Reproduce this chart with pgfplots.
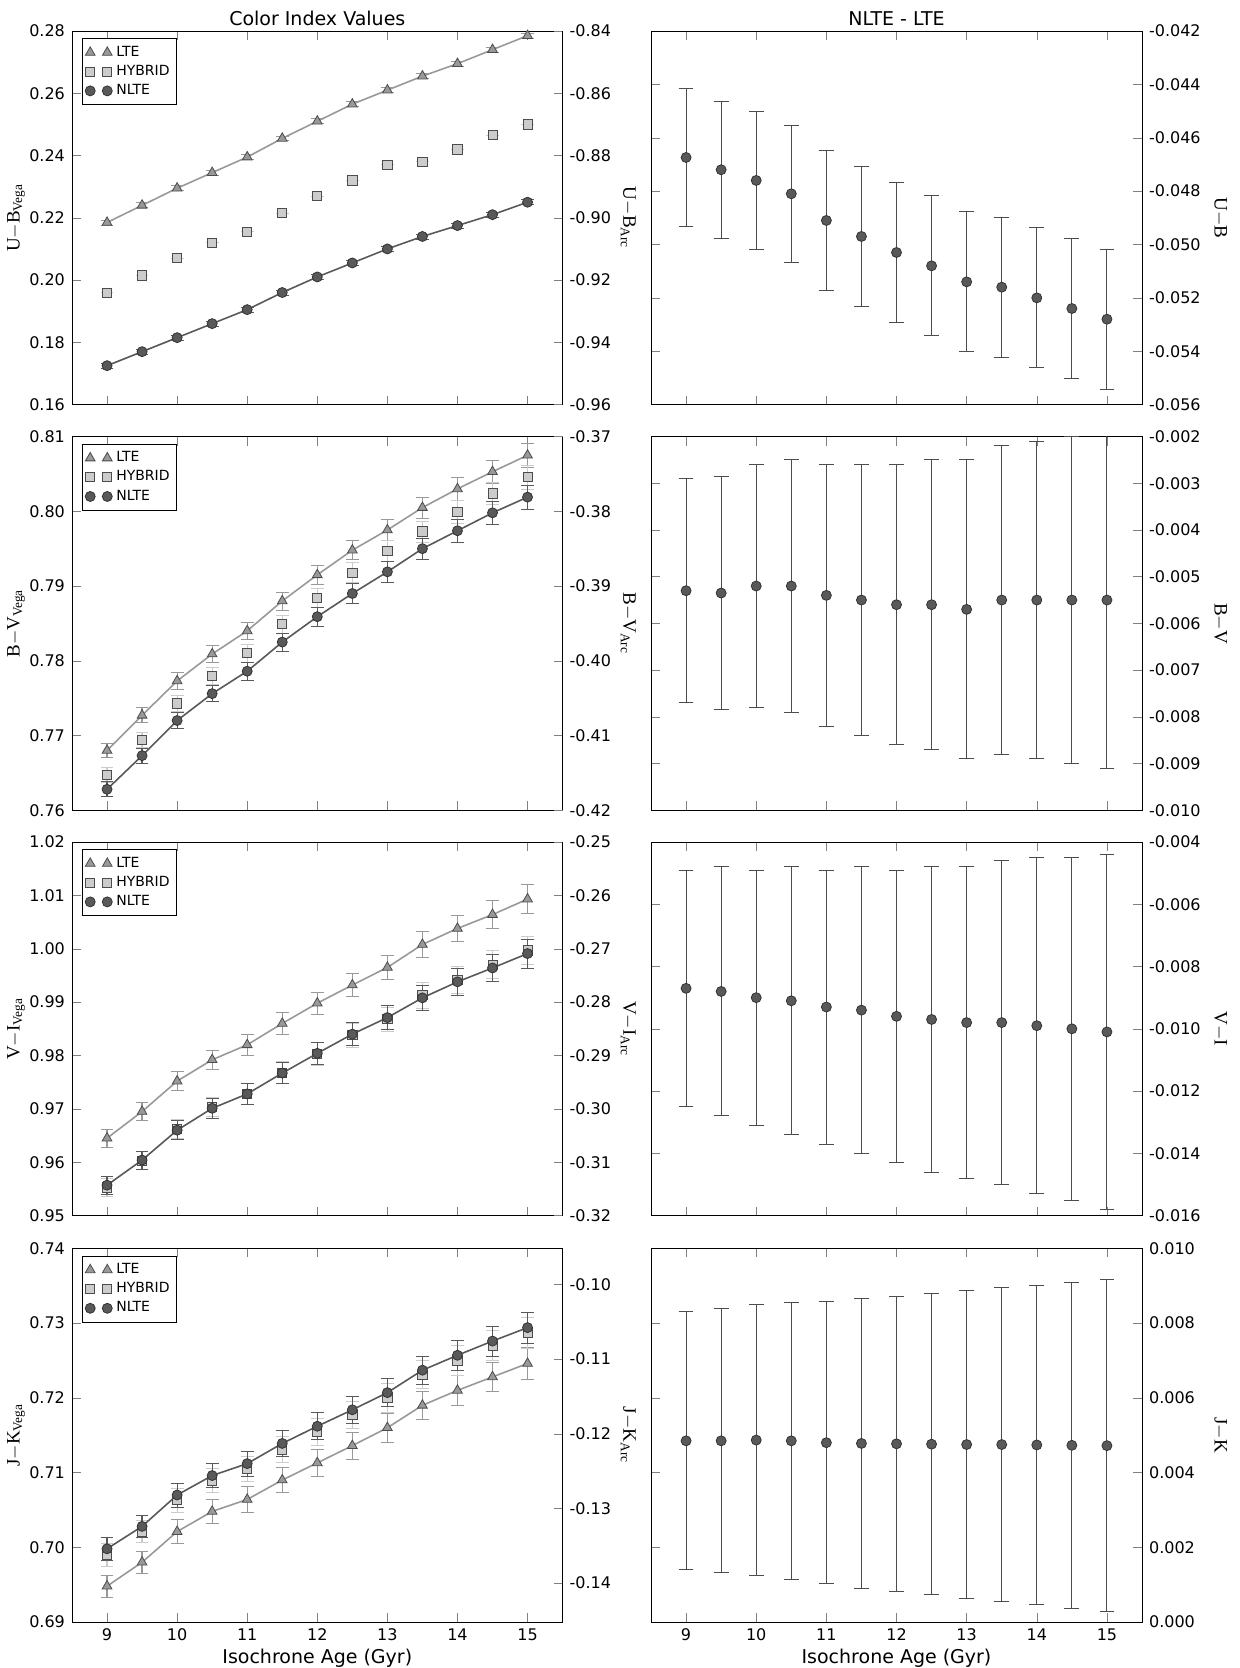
\documentclass[border=0pt]{standalone}
\usepackage{fontspec}
\setmainfont{DejaVu Sans}
\newfontfamily\serif{Liberation Serif}
\usepackage{pgfplots}
\pgfplotsset{compat=1.18}
\definecolor{clte}{gray}{0.6}
\definecolor{chyb}{gray}{0.8}
\definecolor{cnlte}{gray}{0.35}
\newcommand{\lab}[2]{{\serif #1$-$#2}}
\newcommand{\labs}[3]{{\serif #1$-$#2\textsubscript{#3}}}
\pgfplotsset{
 every axis title/.style={at={(0.5,1)}, anchor=base, inner sep=0pt, yshift=2.5pt, font=\fontsize{9.5}{11}\selectfont},
 base/.style={scale only axis, height=186.8pt, xmin=8.5, xmax=15.5, xtick={9,...,15},
   scaled y ticks=false,
   tick label style={font=\fontsize{8}{9.5}\selectfont}, /pgf/number format/assume math mode=true,
   label style={font=\fontsize{9.5}{11}\selectfont}, tick align=inside, major tick length=4.5pt,
   xlabel style={yshift=3pt},
   yticklabel style={/pgf/number format/fixed,/pgf/number format/fixed zerofill}},
 lft/.style={base, width=245.3pt, axis y line*=left,
   ylabel style={at={(axis description cs:-0.114,0.5)}, anchor=center},
   legend style={at={(0.02,0.98)},anchor=north west,font=\fontsize{7}{8.5}\selectfont,draw=black,cells={anchor=west},row sep=-1pt,inner sep=1.5pt},
   legend image code/.code={\draw[##1] plot[only marks] coordinates {(0cm,0cm) (0.3cm,0cm)};}},
 sec/.style={base, width=245.3pt, axis y line*=right, axis x line=none,
   ylabel style={at={(axis description cs:1.134,0.5)}, anchor=center, rotate=180}},
 rgt/.style={base, width=245.5pt, yticklabel pos=right,
   ylabel style={at={(axis description cs:1.159,0.5)}, anchor=center, rotate=180}},
 lte/.style={color=clte, line width=0.8pt, mark=triangle*, mark size=2.8pt, mark options={fill=clte,draw=black!70,line width=0.4pt},
   error bars/.cd, y dir=both, y explicit, error bar style={clte,line width=0.6pt}, error mark options={rotate=90,mark size=3.2pt,clte}},
 hyb/.style={only marks, mark=square*, mark size=2.3pt, mark options={fill=chyb,draw=black!70,line width=0.4pt},
   error bars/.cd, y dir=both, y explicit, error bar style={chyb,line width=0.6pt}, error mark options={rotate=90,mark size=3.2pt,chyb}},
 nlt/.style={color=cnlte, line width=0.8pt, mark=*, mark size=2.5pt, mark options={fill=cnlte,draw=black!80,line width=0.4pt},
   error bars/.cd, y dir=both, y explicit, error bar style={cnlte,line width=0.6pt}, error mark options={rotate=90,mark size=3.2pt,cnlte}},
 dif/.style={only marks, mark=*, mark size=2.5pt, mark options={fill=cnlte,draw=black!80,line width=0.4pt},
   error bars/.cd, y dir=both, y explicit, error bar style={black!70,line width=0.5pt}, error mark options={rotate=90,mark size=3.7pt,black!70,line width=0.5pt}},
}
\begin{document}
\begin{tikzpicture}
\path[use as bounding box] (0,0) rectangle (619.5pt,-834pt);
% ---------- Row 1 ----------
\begin{axis}[lft, at={(36pt,-15.5pt)}, anchor=north west, ymin=0.16, ymax=0.28, ytick={0.16,0.18,...,0.281}, xticklabels={},
  yticklabel style={/pgf/number format/precision=2}, ylabel={\labs{U}{B}{Vega}}, title={Color Index Values}]
\addplot[lte] table[x=x,y=y,y error=e] {
x y e
9 0.2185 0.0008
9.5 0.2240 0.0008
10 0.2295 0.0008
10.5 0.2345 0.0008
11 0.2395 0.0008
11.5 0.2455 0.0008
12 0.2510 0.0008
12.5 0.2565 0.0008
13 0.2610 0.0008
13.5 0.2655 0.0008
14 0.2695 0.0008
14.5 0.2740 0.0008
15 0.2785 0.0008
};
\addplot[hyb] table[x=x,y=y,y error=e] {
x y e
9 0.1960 0.0
9.5 0.2015 0.0
10 0.2070 0.0
10.5 0.2120 0.0
11 0.2155 0.0
11.5 0.2215 0.0
12 0.2270 0.0
12.5 0.2320 0.0
13 0.2370 0.0
13.5 0.2380 0.0
14 0.2420 0.0
14.5 0.2465 0.0
15 0.2500 0.0
};
\addplot[nlt] table[x=x,y=y,y error=e] {
x y e
9 0.1725 0.0008
9.5 0.1770 0.0008
10 0.1815 0.0008
10.5 0.1860 0.0008
11 0.1905 0.0008
11.5 0.1960 0.0008
12 0.2010 0.0008
12.5 0.2055 0.0008
13 0.2100 0.0008
13.5 0.2140 0.0008
14 0.2175 0.0008
14.5 0.2210 0.0008
15 0.2250 0.0008
};
\legend{LTE,HYBRID,NLTE}
\end{axis}
\begin{axis}[sec, at={(36pt,-15.5pt)}, anchor=north west, ymin=-0.96, ymax=-0.84, ytick={-0.96,-0.94,...,-0.839},
  yticklabel style={/pgf/number format/precision=2}, ylabel={\labs{U}{B}{Arc}}]
\end{axis}
\begin{axis}[rgt, at={(325.5pt,-15.5pt)}, anchor=north west, ymin=-0.056, ymax=-0.042, ytick={-0.056,-0.054,...,-0.0415}, xticklabels={},
  yticklabel style={/pgf/number format/precision=3}, ylabel={\lab{U}{B}}, title={NLTE - LTE}]
\addplot[dif] table[x=x,y=y,y error=e] {
x y e
9 -0.04674 0.00257
9.5 -0.0472 0.00257
10 -0.0476 0.00257
10.5 -0.0481 0.00257
11 -0.0491 0.00262
11.5 -0.0497 0.00262
12 -0.0503 0.00262
12.5 -0.0508 0.00262
13 -0.0514 0.00262
13.5 -0.0516 0.00262
14 -0.0520 0.00262
14.5 -0.0524 0.00262
15 -0.0528 0.00262
};
\end{axis}
% ---------- Row 2 ----------
\begin{axis}[lft, at={(36pt,-218.3pt)}, anchor=north west, ymin=0.76, ymax=0.81, ytick={0.76,0.77,...,0.811}, xticklabels={},
  yticklabel style={/pgf/number format/precision=2}, ylabel={\labs{B}{V}{Vega}}]
\addplot[lte] table[x=x,y=y,y error=e] {
x y e
9 0.7680 0.0010
9.5 0.7727 0.0010
10 0.7773 0.0011
10.5 0.7809 0.0011
11 0.7840 0.0012
11.5 0.7880 0.0012
12 0.7915 0.0013
12.5 0.7948 0.0013
13 0.7975 0.0014
13.5 0.8005 0.0014
14 0.8030 0.0015
14.5 0.8053 0.0015
15 0.8075 0.0016
};
\addplot[hyb] table[x=x,y=y,y error=e] {
x y e
9 0.7647 0.0010
9.5 0.7694 0.0010
10 0.7743 0.0011
10.5 0.7780 0.0011
11 0.7810 0.0012
11.5 0.7849 0.0012
12 0.7884 0.0013
12.5 0.7918 0.0013
13 0.7947 0.0014
13.5 0.7973 0.0014
14 0.7999 0.0015
14.5 0.8024 0.0015
15 0.8046 0.0016
};
\addplot[nlt] table[x=x,y=y,y error=e] {
x y e
9 0.7628 0.0010
9.5 0.7673 0.0010
10 0.7720 0.0011
10.5 0.7756 0.0011
11 0.7786 0.0012
11.5 0.7825 0.0012
12 0.7859 0.0013
12.5 0.7890 0.0013
13 0.7919 0.0014
13.5 0.7950 0.0014
14 0.7974 0.0015
14.5 0.7998 0.0015
15 0.8019 0.0016
};
\legend{LTE,HYBRID,NLTE}
\end{axis}
\begin{axis}[sec, at={(36pt,-218.3pt)}, anchor=north west, ymin=-0.42, ymax=-0.37, ytick={-0.42,-0.41,...,-0.369},
  yticklabel style={/pgf/number format/precision=2}, ylabel={\labs{B}{V}{Arc}}]
\end{axis}
\begin{axis}[rgt, at={(325.5pt,-218.3pt)}, anchor=north west, ymin=-0.010, ymax=-0.002, ytick={-0.010,-0.009,...,-0.0015}, xticklabels={},
  yticklabel style={/pgf/number format/precision=3}, ylabel={\lab{B}{V}}]
\addplot[dif] table[x=x,y=y,y error=e] {
x y e
9 -0.0053 0.0024
9.5 -0.00535 0.0025
10 -0.0052 0.0026
10.5 -0.0052 0.0027
11 -0.0054 0.0028
11.5 -0.0055 0.0029
12 -0.0056 0.0030
12.5 -0.0056 0.0031
13 -0.0057 0.0032
13.5 -0.0055 0.0033
14 -0.0055 0.0034
14.5 -0.0055 0.0035
15 -0.0055 0.0036
};
\end{axis}
% ---------- Row 3 ----------
\begin{axis}[lft, at={(36pt,-421pt)}, anchor=north west, ymin=0.95, ymax=1.02, ytick={0.95,0.96,...,1.021}, xticklabels={},
  yticklabel style={/pgf/number format/precision=2}, ylabel={\labs{V}{I}{Vega}}]
\addplot[lte] table[x=x,y=y,y error=e] {
x y e
9 0.9645 0.0017
9.5 0.9695 0.0017
10 0.9752 0.0018
10.5 0.9792 0.0018
11 0.9820 0.0019
11.5 0.9860 0.0020
12 0.9898 0.0021
12.5 0.9932 0.0022
13 0.9965 0.0023
13.5 1.0008 0.0024
14 1.0038 0.0025
14.5 1.0064 0.0026
15 1.0093 0.0027
};
\addplot[hyb] table[x=x,y=y,y error=e] {
x y e
9 0.9553 0.0017
9.5 0.9603 0.0017
10 0.9662 0.0018
10.5 0.9703 0.0018
11 0.9728 0.0019
11.5 0.9768 0.0020
12 0.9803 0.0021
12.5 0.9838 0.0022
13 0.9868 0.0023
13.5 0.9913 0.0024
14 0.9942 0.0025
14.5 0.9970 0.0026
15 0.9997 0.0027
};
\addplot[nlt] table[x=x,y=y,y error=e] {
x y e
9 0.9557 0.0017
9.5 0.9604 0.0017
10 0.9660 0.0018
10.5 0.9701 0.0018
11 0.9728 0.0019
11.5 0.9767 0.0020
12 0.9804 0.0021
12.5 0.9840 0.0022
13 0.9871 0.0023
13.5 0.9908 0.0024
14 0.9938 0.0025
14.5 0.9964 0.0026
15 0.9991 0.0027
};
\legend{LTE,HYBRID,NLTE}
\end{axis}
\begin{axis}[sec, at={(36pt,-421pt)}, anchor=north west, ymin=-0.32, ymax=-0.25, ytick={-0.32,-0.31,...,-0.249},
  yticklabel style={/pgf/number format/precision=2}, ylabel={\labs{V}{I}{Arc}}]
\end{axis}
\begin{axis}[rgt, at={(325.5pt,-421pt)}, anchor=north west, ymin=-0.016, ymax=-0.004, ytick={-0.016,-0.014,...,-0.0035}, xticklabels={},
  yticklabel style={/pgf/number format/precision=3}, ylabel={\lab{V}{I}}]
\addplot[dif] table[x=x,y=y,y error=e] {
x y e
9 -0.0087 0.0038
9.5 -0.0088 0.0040
10 -0.0090 0.0041
10.5 -0.0091 0.0043
11 -0.0093 0.0044
11.5 -0.0094 0.0046
12 -0.0096 0.0047
12.5 -0.0097 0.0049
13 -0.0098 0.0050
13.5 -0.0098 0.0052
14 -0.0099 0.0054
14.5 -0.0100 0.0055
15 -0.0101 0.0057
};
\end{axis}
% ---------- Row 4 ----------
\begin{axis}[lft, at={(36pt,-624.2pt)}, anchor=north west, ymin=0.69, ymax=0.74, ytick={0.69,0.70,...,0.741},
  yticklabel style={/pgf/number format/precision=2}, ylabel={\labs{J}{K}{Vega}}, xlabel={Isochrone Age (Gyr)}]
\addplot[lte] table[x=x,y=y,y error=e] {
x y e
9 0.6948 0.0015
9.5 0.6980 0.0015
10 0.7021 0.0016
10.5 0.7048 0.0016
11 0.7064 0.0017
11.5 0.7090 0.0017
12 0.7113 0.0018
12.5 0.7136 0.0018
13 0.7160 0.0019
13.5 0.7190 0.0019
14 0.7210 0.0020
14.5 0.7228 0.0020
15 0.7246 0.0021
};
\addplot[hyb] table[x=x,y=y,y error=e] {
x y e
9 0.6990 0.0015
9.5 0.7021 0.0015
10 0.7063 0.0016
10.5 0.7089 0.0016
11 0.7105 0.0017
11.5 0.7131 0.0017
12 0.7155 0.0018
12.5 0.7177 0.0018
13 0.7200 0.0019
13.5 0.7231 0.0019
14 0.7250 0.0020
14.5 0.7270 0.0020
15 0.7287 0.0021
};
\addplot[nlt] table[x=x,y=y,y error=e] {
x y e
9 0.6998 0.0015
9.5 0.7028 0.0015
10 0.7070 0.0016
10.5 0.7096 0.0016
11 0.7112 0.0017
11.5 0.7139 0.0017
12 0.7162 0.0018
12.5 0.7184 0.0018
13 0.7207 0.0019
13.5 0.7237 0.0019
14 0.7257 0.0020
14.5 0.7276 0.0020
15 0.7294 0.0021
};
\legend{LTE,HYBRID,NLTE}
\end{axis}
\begin{axis}[sec, at={(36pt,-624.2pt)}, anchor=north west, ymin=-0.1452, ymax=-0.0952, ytick={-0.14,-0.13,...,-0.099},
  yticklabel style={/pgf/number format/precision=2}, ylabel={\labs{J}{K}{Arc}}]
\end{axis}
\begin{axis}[rgt, at={(325.5pt,-624.2pt)}, anchor=north west, ymin=0, ymax=0.010, ytick={0,0.002,...,0.0105},
  yticklabel style={/pgf/number format/precision=3}, ylabel={\lab{J}{K}}, xlabel={Isochrone Age (Gyr)}]
\addplot[dif] table[x=x,y=y,y error=e] {
x y e
9 0.00485 0.00345
9.5 0.00485 0.00353
10 0.00487 0.00362
10.5 0.00485 0.00370
11 0.00480 0.00378
11.5 0.00478 0.00387
12 0.00477 0.00395
12.5 0.00476 0.00403
13 0.00475 0.00412
13.5 0.00475 0.00420
14 0.00474 0.00428
14.5 0.00473 0.00437
15 0.00472 0.00445
};
\end{axis}
\end{tikzpicture}
\end{document}
